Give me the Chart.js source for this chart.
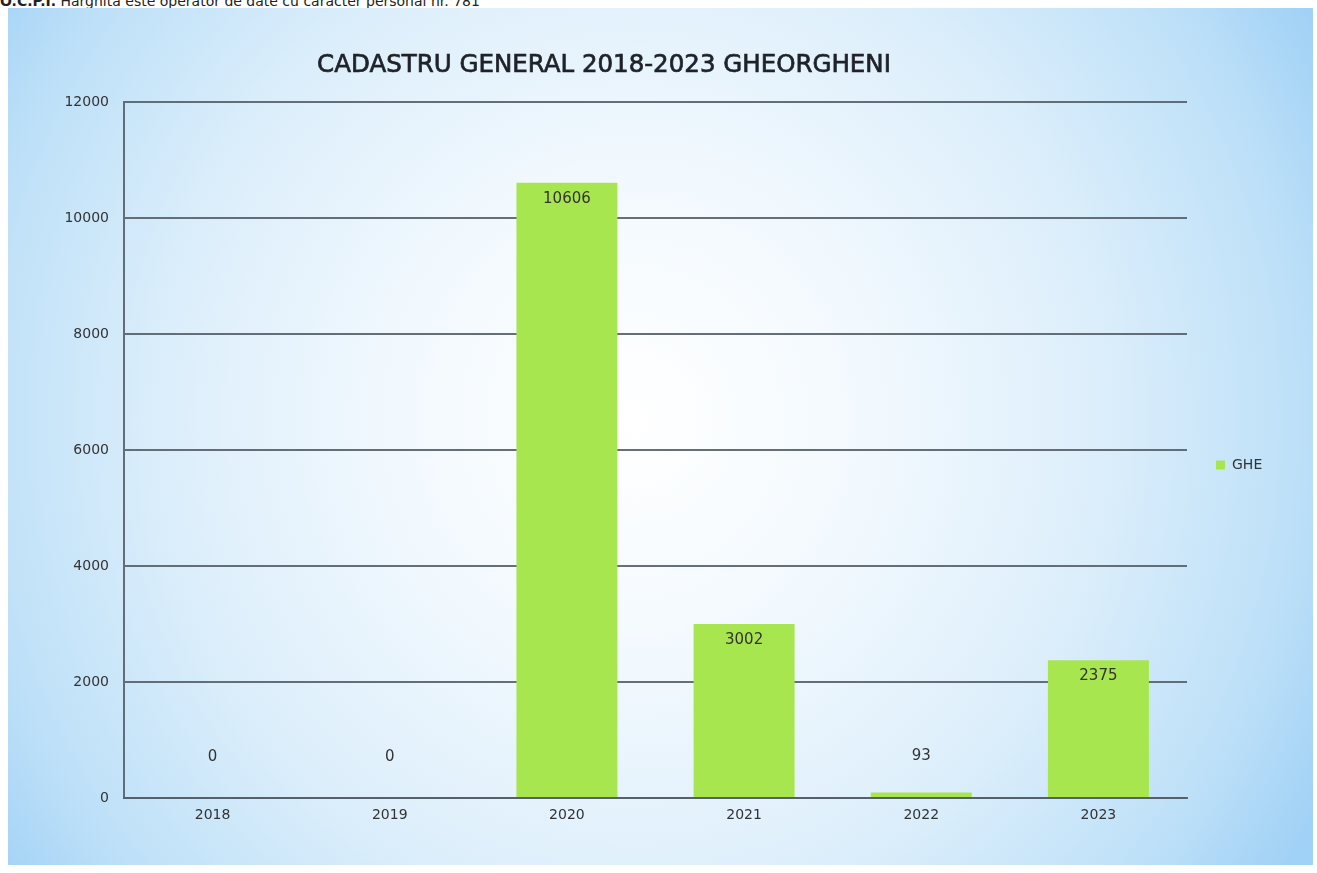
<!DOCTYPE html>
<html>
<head>
<meta charset="utf-8">
<script src="https://cdn.jsdelivr.net/npm/chart.js@4"></script>
<style>
  html, body { margin: 0; padding: 0; background: #ffffff; width: 1317px; height: 873px; overflow: hidden; }
  #hdr { position: absolute; left: 0; top: -7px; font-family: "DejaVu Sans", sans-serif; font-size: 14px; color: #222; white-space: nowrap; line-height: 16px; }
  #slide { position: absolute; left: 8px; top: 8px; width: 1305px; height: 857px;
    background: radial-gradient(ellipse 60% 95% at 48% 48%, #ffffff 0%, #f2f9fe 30%, #dceefb 60%, #bde0f8 85%, #a0d1f6 100%); }
  #c { position: absolute; left: 0; top: 0; }
</style>
</head>
<body>
<div id="hdr"><b>O.C.P.I.</b> Harghita este operator de date cu caracter personal nr. 781</div>
<div id="slide"><canvas id="c" width="1305" height="857"></canvas></div>
<script>
const chartTitle = "CADASTRU GENERAL 2018-2023 GHEORGHENI";
const categories = ["2018", "2019", "2020", "2021", "2022", "2023"];
const seriesName = "GHE";
const seriesValues = [0, 0, 10606, 3002, 93, 2375];
const yTicks = [0, 2000, 4000, 6000, 8000, 10000, 12000];

const GRID = "rgba(85,95,105,0.9)";
const TXT = "#333333";
const BAR = "#a8e64f";

const titlePlugin = {
  id: "customTitle",
  afterDraw(chart) {
    const ctx = chart.ctx;
    ctx.save();
    ctx.font = "24.5px 'DejaVu Sans', sans-serif";
    ctx.fillStyle = "#1f2329";
    ctx.strokeStyle = "#1f2329";
    ctx.lineWidth = 0.7;
    ctx.textAlign = "center";
    ctx.textBaseline = "middle";
    ctx.fillText(chartTitle, 596, 58);
    ctx.strokeText(chartTitle, 596, 58);
    ctx.restore();
  }
};

const labelPlugin = {
  id: "barLabels",
  afterDatasetsDraw(chart) {
    const ctx = chart.ctx;
    const meta = chart.getDatasetMeta(0);
    ctx.save();
    ctx.font = "15px 'DejaVu Sans', sans-serif";
    ctx.fillStyle = TXT;
    ctx.textAlign = "center";
    ctx.textBaseline = "middle";
    meta.data.forEach((bar, i) => {
      const y = Math.min(bar.y + 16, bar.base - 41);
      ctx.fillText(String(chart.data.datasets[0].data[i]), bar.x, y);
    });
    ctx.restore();
  }
};

const legendFitPlugin = {
  id: "legendFit",
  beforeLayout(chart) {
    const lg = chart.legend;
    if (lg && !lg._fixed) {
      const f = lg.fit;
      lg.fit = function () { f.call(this); this.width = 126; };
      lg._fixed = true;
    }
  }
};

new Chart(document.getElementById("c"), {
  type: "bar",
  data: {
    labels: categories,
    datasets: [{
      label: seriesName,
      data: seriesValues,
      backgroundColor: BAR,
      borderWidth: 0,
      barPercentage: 0.57,
      categoryPercentage: 1.0
    }]
  },
  options: {
    responsive: false,
    animation: false,
    layout: { padding: { top: 94, left: 0, right: 0, bottom: 37 } },
    plugins: {
      title: { display: false },
      tooltip: { enabled: false },
      legend: {
        position: "right",
        labels: {
          boxWidth: 9, boxHeight: 9, padding: 29,
          color: TXT,
          font: { family: "'DejaVu Sans', sans-serif", size: 14 }
        }
      }
    },
    scales: {
      x: {
        grid: { display: false, drawTicks: false },
        border: { display: true, color: GRID, width: 2 },
        ticks: { color: TXT, padding: 9, font: { family: "'DejaVu Sans', sans-serif", size: 14 } },
        afterFit(s) { s.height = 30; }
      },
      y: {
        min: 0, max: 12000,
        afterBuildTicks(s) { s.ticks = yTicks.map(v => ({ value: v })); },
        grid: { color: GRID, lineWidth: 2, drawTicks: false },
        border: { display: true, color: GRID, width: 2 },
        ticks: {
          color: TXT, padding: 15,
          font: { family: "'DejaVu Sans', sans-serif", size: 14 },
          callback: (v) => String(v)
        },
        afterFit(s) { s.width = 116; }
      }
    }
  },
  plugins: [titlePlugin, labelPlugin, legendFitPlugin]
});
</script>
</body>
</html>
